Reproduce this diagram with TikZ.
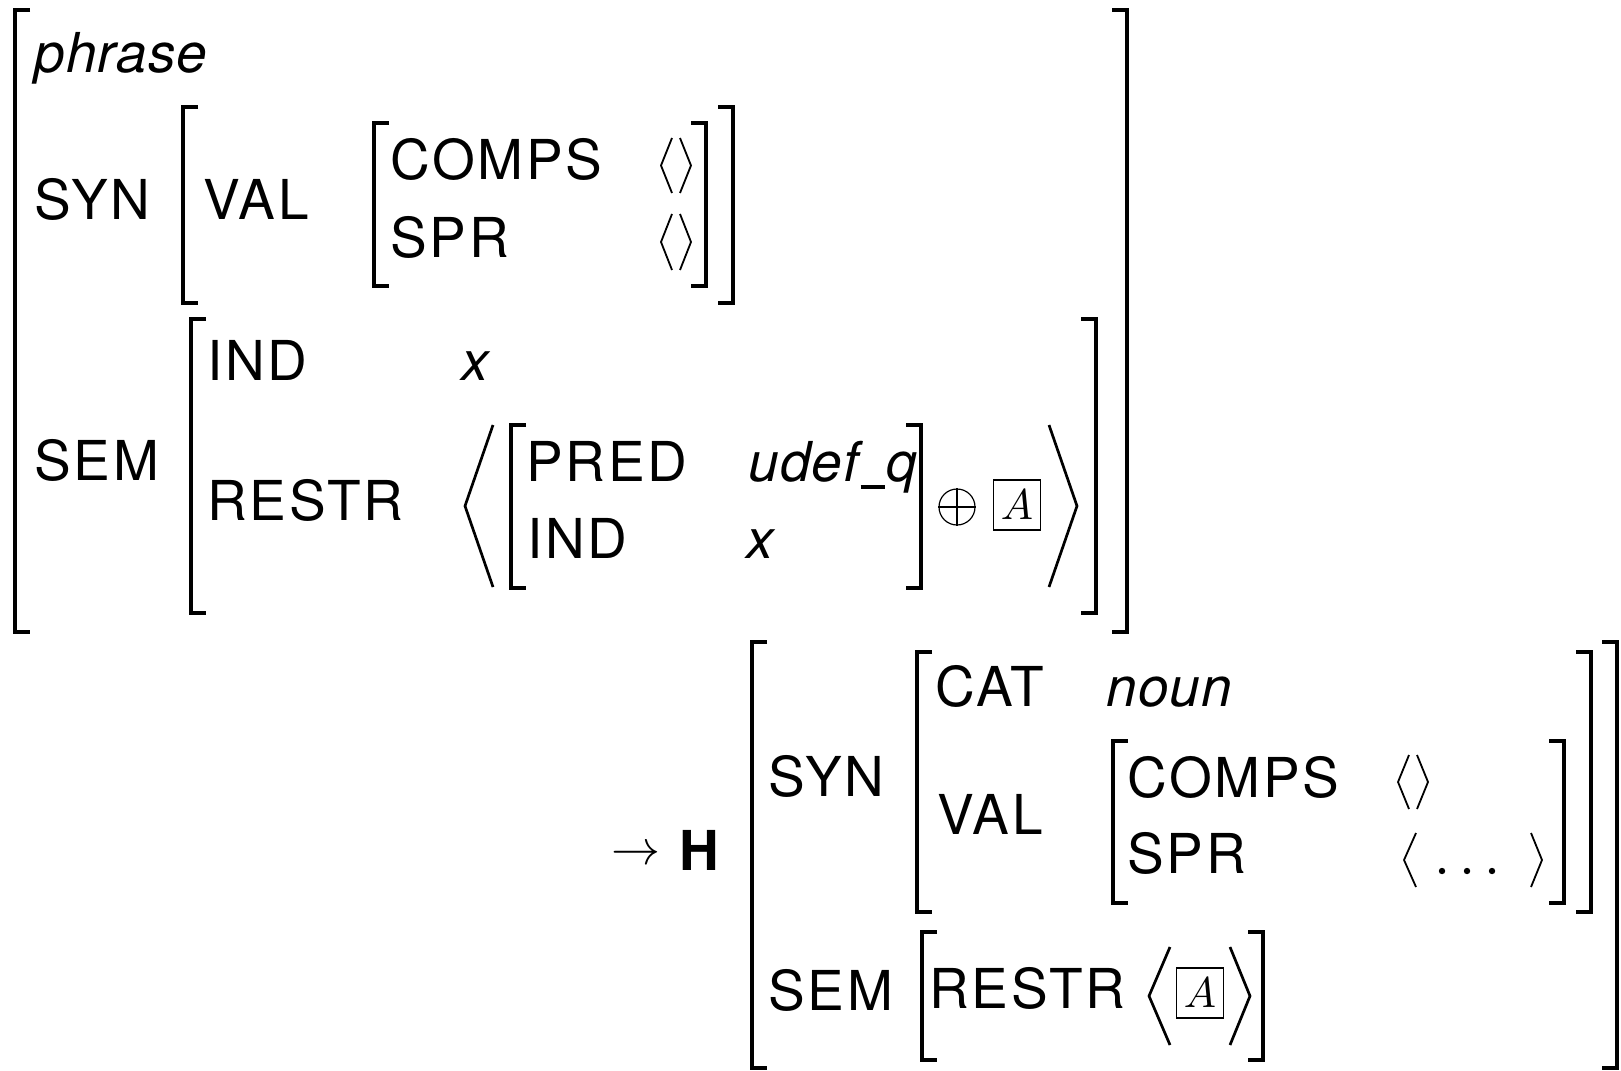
\documentclass[tikz,border=0pt]{standalone}
\usepackage{fontspec}
\usepackage{graphicx}
\newfontfamily\avmsf{TeX Gyre Heros}[LetterSpace=5]
\newfontfamily\avmit{TeX Gyre Heros Italic}[LetterSpace=2]
\usetikzlibrary{calc}

% bracket pieces: x of the stroke, top, bottom, style
\newcommand{\avmL}[4]{\draw[#4] (#1+15,#2) -- (#1,#2) -- (#1,#3) -- (#1+15,#3);}
\newcommand{\avmR}[4]{\draw[#4] (#1-15,#2) -- (#1,#2) -- (#1,#3) -- (#1-15,#3);}
% angle bracket: open x, top, tip x, bottom, style
\newcommand{\avmAng}[5]{\draw[#5] (#1,#2) -- (#3,{(#2+#4)/2}) -- (#1,#4);}

\begin{document}
\begin{tikzpicture}[
  x=0.5pt, y=-0.5pt,
  attr/.style={anchor=base west, inner sep=0pt, font=\avmsf\fontsize{27.5}{30}\selectfont},
  tval/.style={anchor=base west, inner sep=0pt, font=\avmit\fontsize{27.5}{30}\selectfont},
  head/.style={anchor=base west, inner sep=0pt, font=\avmsf\bfseries\fontsize{27.5}{30}\selectfont},
  thickbr/.style={line width=2.1pt, line cap=butt, line join=miter},
  thinbr/.style={line width=1.6pt, line cap=butt, line join=miter},
  bigang/.style={line width=1.35pt, line join=miter},
  smallang/.style={line width=0.9pt, line join=miter},
  tagbox/.style={draw, line width=0.9pt, minimum width=23.5pt, minimum height=25pt, inner sep=0pt},
]
\useasboundingbox (0,0) rectangle (1621,1070);

% ---------- mother: phrase ----------
\avmL{15}{10}{632}{thickbr}
\avmR{1127}{10}{632}{thickbr}
\node[tval] (phr) at (34,73) {phrase};

% SYN
\node[attr] (syn1) at (34,219) {SYN};
\avmL{183}{107}{303}{thickbr}
\avmR{733}{107}{303}{thickbr}
\node[attr] (val1) at (203,219) {VAL};
\avmL{374}{123}{286}{thinbr}
\avmR{706}{123}{286}{thinbr}
\node[attr] (comps1) at (390,179) {COMPS};
\node[attr] (spr1) at (390,257) {SPR};
\avmAng{672}{138}{661}{193}{smallang}
\avmAng{680}{138}{691}{193}{smallang}
\avmAng{672}{214}{661}{270}{smallang}
\avmAng{680}{214}{691}{270}{smallang}

% SEM
\node[attr] (sem1) at (34,480) {SEM};
\avmL{191}{319}{613}{thickbr}
\avmR{1096}{319}{613}{thickbr}
\node[attr] (ind1) at (207,380) {IND};
\node[tval] (x1) at (461,380) {x};
\node[attr] (restr1) at (207,520) {RESTR};
\avmAng{493}{425}{465}{587}{bigang}
\avmAng{1049}{425}{1077}{587}{bigang}
\avmL{511}{425}{588}{thinbr}
\avmR{921}{425}{588}{thinbr}
\node[attr] (pred) at (526,481) {PRED};
\node[tval] (udef) at (748,481) {udef\kern1pt\rule[-4pt]{12pt}{2pt}\kern1pt q};
\node[attr] (ind2) at (527,558) {IND};
\node[tval] (x2) at (746,558) {x};
\node[circle, draw, line width=0.6pt, minimum size=18pt, inner sep=0pt] (oplus) at (957,507) {};
\draw[line width=0.6pt] (oplus.north) -- (oplus.south) (oplus.west) -- (oplus.east);
\node[tagbox] (tagA1) at (1017,505) {\scalebox{2.15}{$A$}};

% ---------- head daughter ----------
\node[inner sep=0pt] (arr) at (635.5,855) {\scalebox{2.45}{$\rightarrow$}};
\node[head] (hd) at (679,870) {H};
\avmL{752}{642}{1068}{thickbr}
\avmR{1617}{642}{1068}{thickbr}

\node[attr] (syn2) at (768,796) {SYN};
\avmL{917}{652}{912}{thickbr}
\avmR{1591}{652}{912}{thickbr}
\node[attr] (cat) at (935,706) {CAT};
\node[tval] (noun) at (1106,706) {noun};
\node[attr] (val2) at (937,834) {VAL};
\avmL{1113}{741}{903}{thinbr}
\avmR{1564}{741}{903}{thinbr}
\node[attr] (comps2) at (1127,797) {COMPS};
\node[attr] (spr2) at (1127,873) {SPR};
\avmAng{1409}{755}{1398}{809}{smallang}
\avmAng{1417}{755}{1428}{809}{smallang}
\avmAng{1416}{833}{1404}{887}{smallang}
\avmAng{1531}{833}{1542}{887}{smallang}
\fill (1442,871) circle[radius=1.6pt] (1467,871) circle[radius=1.6pt] (1492,871) circle[radius=1.6pt];

\node[attr] (sem2) at (768,1010) {SEM};
\avmL{922}{932}{1060}{thinbr}
\avmR{1263}{932}{1060}{thinbr}
\node[attr] (restr2) at (929,1008) {RESTR};
\avmAng{1170}{947}{1149}{1045}{bigang}
\avmAng{1230}{947}{1250}{1045}{bigang}
\node[tagbox] (tagA2) at (1200,993) {\scalebox{2.15}{$A$}};
\end{tikzpicture}
\end{document}
